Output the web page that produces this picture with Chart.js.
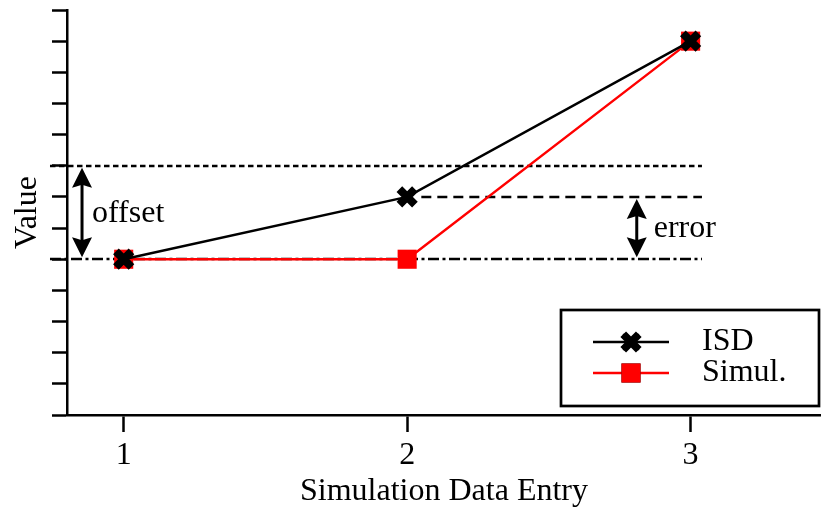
<!DOCTYPE html>
<html>
<head>
<meta charset="utf-8">
<script src="https://cdn.jsdelivr.net/npm/chart.js@4.4.0/dist/chart.umd.min.js"></script>
<style>
  html, body { margin: 0; padding: 0; background: #fff; }
  #c { display: block; }
</style>
</head>
<body>
<canvas id="c" width="821" height="508"></canvas>
<script>
// Series
const entries = [1, 2, 3];
const isdValues = [5, 7, 12];
const simValues = [5, 5, 12];
const xTickValues = [1, 2, 3];
const seriesLabels = ['ISD', 'Simul.'];

// Horizontal guide levels (value, start entry, end entry)
const guideLevels = [8, 7, 5];
const guideStarts = [0.74, 2.05, 0.74];
const guideEnds = [3.04, 3.04, 3.04];

// Double-headed arrows (entry position, from value, to value) and their labels
const arrowLabels = ['offset', 'error'];
const arrowAt = [0.853, 2.81];
const arrowFrom = [5, 5];
const arrowTo = [8, 7];

const FONT = '"Liberation Serif", "DejaVu Serif", serif';
const FONT_SIZE = 32;

function noPadding(s) {
  s.paddingTop = 0;
  s.paddingBottom = 0;
  s.paddingLeft = 0;
  s.paddingRight = 0;
}

const guidePlugin = {
  id: 'guides',
  beforeDatasetsDraw(chart) {
    const { ctx, scales: { x, y } } = chart;
    const dashes = [[5.5, 3.5], [10, 6], [11, 3.5, 3, 3.5]];
    ctx.save();
    ctx.strokeStyle = '#000';
    ctx.lineWidth = 2.3;
    guideLevels.forEach((lvl, i) => {
      const py = Math.round(y.getPixelForValue(lvl));
      ctx.setLineDash(dashes[i]);
      ctx.beginPath();
      ctx.moveTo(x.getPixelForValue(guideStarts[i]), py);
      ctx.lineTo(x.getPixelForValue(guideEnds[i]), py);
      ctx.stroke();
    });
    ctx.restore();
  },
  afterDraw(chart) {
    const { ctx, scales: { x, y } } = chart;
    const labelGap = [10, 17];
    ctx.save();
    // arrows
    arrowLabels.forEach((txt, i) => {
      const px = x.getPixelForValue(arrowAt[i]);
      const yTop = y.getPixelForValue(arrowTo[i]) + 2;
      const yBot = y.getPixelForValue(arrowFrom[i]) - 2;
      const hl = 20, hw = 10;
      ctx.strokeStyle = '#000';
      ctx.fillStyle = '#000';
      ctx.lineWidth = 3;
      ctx.setLineDash([]);
      ctx.beginPath();
      ctx.moveTo(px, yTop + hl - 4);
      ctx.lineTo(px, yBot - hl + 4);
      ctx.stroke();
      const head = (tipY, dir) => {
        ctx.beginPath();
        ctx.moveTo(px, tipY);
        ctx.lineTo(px + hw, tipY + dir * hl);
        ctx.quadraticCurveTo(px, tipY + dir * (hl - 3), px, tipY + dir * (hl - 3));
        ctx.quadraticCurveTo(px, tipY + dir * (hl - 3), px - hw, tipY + dir * hl);
        ctx.closePath();
        ctx.fill();
      };
      head(yTop, 1);
      head(yBot, -1);
      ctx.font = FONT_SIZE + 'px ' + FONT;
      ctx.textAlign = 'left';
      ctx.textBaseline = 'middle';
      ctx.fillText(txt, px + labelGap[i], (yTop + yBot) / 2 + 1);
    });

    // legend box
    const bx = 561, by = 310, bw = 258, bh = 96;
    ctx.fillStyle = '#fff';
    ctx.fillRect(bx, by, bw, bh);
    ctx.strokeStyle = '#000';
    ctx.lineWidth = 2.7;
    ctx.strokeRect(bx, by, bw, bh);
    const rows = [342, 373];
    chart.data.datasets.forEach((ds, i) => {
      const ry = rows[i];
      ctx.strokeStyle = ds.borderColor;
      ctx.lineWidth = ds.borderWidth;
      ctx.beginPath();
      ctx.moveTo(593, ry);
      ctx.lineTo(669, ry);
      ctx.stroke();
      Chart.helpers.drawPoint(ctx, {
        pointStyle: ds.pointStyle,
        radius: ds.pointRadius,
        borderWidth: ds.pointBorderWidth,
        rotation: 0
      }, 631, ry);
      if (ds.pointStyle === 'rect') {
        ctx.fillStyle = ds.pointBackgroundColor;
        ctx.fill();
      } else {
        ctx.strokeStyle = ds.pointBorderColor;
        ctx.lineWidth = ds.pointBorderWidth;
        ctx.stroke();
      }
      ctx.fillStyle = '#000';
      ctx.font = FONT_SIZE + 'px ' + FONT;
      ctx.textAlign = 'left';
      ctx.textBaseline = 'middle';
      ctx.fillText(ds.label, 702, ry);
    });
    ctx.restore();
  }
};

new Chart(document.getElementById('c'), {
  type: 'line',
  data: {
    datasets: [
      {
        label: seriesLabels[0],
        data: entries.map((e, i) => ({ x: e, y: isdValues[i] })),
        borderColor: '#000',
        borderWidth: 2.4,
        pointStyle: 'crossRot',
        pointRadius: 11,
        pointBorderWidth: 8,
        pointBorderColor: '#000',
        pointBackgroundColor: '#000',
        order: 0
      },
      {
        label: seriesLabels[1],
        data: entries.map((e, i) => ({ x: e, y: simValues[i] })),
        borderColor: '#ff0000',
        borderWidth: 2.4,
        pointStyle: 'rect',
        pointRadius: 13.5,
        pointBorderWidth: 0,
        pointBorderColor: '#ff0000',
        pointBackgroundColor: '#ff0000',
        order: 1
      }
    ]
  },
  options: {
    responsive: false,
    animation: false,
    devicePixelRatio: 1,
    clip: false,
    layout: { autoPadding: false, padding: { top: 10, right: 0, left: 0, bottom: 0 } },
    plugins: { legend: { display: false }, tooltip: { enabled: false } },
    scales: {
      x: {
        type: 'linear',
        min: 0.8,
        max: 3.46,
        afterBuildTicks: s => { s.ticks = xTickValues.map(v => ({ value: v })); },
        afterFit: s => { s.height = 93; noPadding(s); },
        grid: { drawOnChartArea: false, tickLength: 17, tickWidth: 2.5, tickColor: '#000' },
        border: { color: '#000', width: 2.5 },
        ticks: { color: '#000', font: { family: FONT, size: FONT_SIZE }, padding: 4, maxRotation: 0 },
        title: { display: true, text: 'Simulation Data Entry', color: '#000', font: { family: FONT, size: FONT_SIZE }, padding: { top: 0, bottom: -3 } }
      },
      y: {
        min: 0,
        max: 13,
        afterFit: s => { s.width = 67; noPadding(s); },
        grid: { drawOnChartArea: false, tickLength: 15, tickWidth: 2.5, tickColor: '#000' },
        border: { color: '#000', width: 2.5 },
        ticks: { stepSize: 1, display: false },
        title: { display: true, text: 'Value', color: '#000', font: { family: FONT, size: FONT_SIZE }, padding: { top: 8, bottom: 0 } }
      }
    }
  },
  plugins: [guidePlugin]
});
</script>
</body>
</html>
